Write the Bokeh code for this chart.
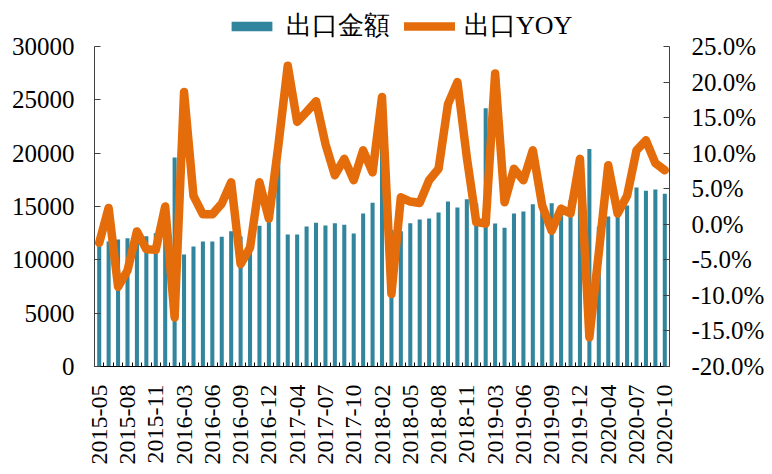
import math
from bokeh.plotting import figure
from bokeh.models import (Range1d, LinearAxis, FixedTicker, PrintfTickFormatter,
                          Legend, LegendItem, ColumnDataSource)
from bokeh.embed import file_html
from bokeh.resources import INLINE

months = [
    "2015-05", "2015-06", "2015-07", "2015-08", "2015-09", "2015-10", "2015-11", "2015-12",
    "2016-02", "2016-03", "2016-04", "2016-05", "2016-06", "2016-07", "2016-08", "2016-09",
    "2016-10", "2016-11", "2016-12",
    "2017-02", "2017-03", "2017-04", "2017-05", "2017-06", "2017-07", "2017-08", "2017-09",
    "2017-10", "2017-11", "2017-12",
    "2018-02", "2018-03", "2018-04", "2018-05", "2018-06", "2018-07", "2018-08", "2018-09",
    "2018-10", "2018-11", "2018-12",
    "2019-02", "2019-03", "2019-04", "2019-05", "2019-06", "2019-07", "2019-08", "2019-09",
    "2019-10", "2019-11", "2019-12",
    "2020-02", "2020-03", "2020-04", "2020-05", "2020-06", "2020-07", "2020-08", "2020-09",
    "2020-10",
]

export_value = [
    11650, 11710, 11900, 12030, 12600, 12220, 12500, 12900,
    19600, 10500, 11250, 11720, 11720, 12160, 12690, 12190, 12600, 13200, 13550,
    19300, 12370, 12370, 13120, 13470, 13220, 13440, 13280, 12470, 14350, 15340,
    21000, 12800, 12690, 13440, 13780, 13870, 14440, 15470, 14910, 15690, 15280,
    24220, 13400, 13000, 14340, 14530, 15220, 14600, 15300, 14500, 15600, 15500,
    20380, 13100, 14060, 14300, 15100, 16770, 16470, 16590, 16190,
]

export_yoy = [
    -2.6, 2.3, -8.8, -6.5, -1.0, -3.5, -3.6, 2.5,
    -13.1, 18.6, 4.0, 1.4, 1.4, 2.9, 5.9, -5.6, -3.3, 5.9, 0.8,
    11.0, 22.3, 14.4, 15.8, 17.3, 11.3, 6.9, 9.2, 6.2, 10.4, 7.3,
    17.9, -9.8, 3.8, 3.2, 3.0, 6.2, 7.8, 16.9, 20.0, 9.4, 0.3,
    0.1, 21.2, 3.1, 7.8, 6.2, 10.4, 2.6, -0.9, 2.2, 1.5, 9.2,
    -15.9, -4.0, 8.3, 1.5, 4.0, 10.4, 11.8, 8.6, 7.6,
]

left_ticks = [0, 5000, 10000, 15000, 20000, 25000, 30000]
right_ticks = [-20, -15, -10, -5, 0, 5, 10, 15, 20, 25]

BAR = "#31859C"
LINE = "#E46C0A"
FONT = "Liberation Serif"
FS = "25px"

# layout (pixels)
W, H = 772, 474
B_LEFT, B_RIGHT, B_TOP, B_BOTTOM = 94, 103, 6, 108
FRAME_H = H - B_TOP - B_BOTTOM      # frame extends up to hold the legend
AXIS_H = 320                         # pixel span of the value axes
scale = FRAME_H / AXIS_H

L0, L1 = left_ticks[0], left_ticks[-1]
R0, R1 = right_ticks[0], right_ticks[-1]

idx = list(range(len(months)))
src = ColumnDataSource(dict(x=idx, v=export_value, y=export_yoy))

p = figure(width=W, height=H, output_backend="svg", toolbar_location=None,
           x_range=Range1d(-0.5, len(months) - 0.5),
           y_range=Range1d(L0, L0 + (L1 - L0) * scale),
           min_border_left=B_LEFT, min_border_right=B_RIGHT,
           min_border_top=B_TOP, min_border_bottom=B_BOTTOM)
p.extra_y_ranges = {"yoy": Range1d(R0, R0 + (R1 - R0) * scale)}
p.xgrid.visible = False
p.ygrid.visible = False
p.outline_line_color = None

bars = p.vbar(x="x", top="v", width=0.43, source=src, fill_color=BAR, line_color=None)
line = p.line(x="x", y="y", source=src, y_range_name="yoy", line_color=LINE,
              line_width=8.5, line_join="round", line_cap="round")

# x axis
xa = p.xaxis[0]
tick_idx = idx[::3]
xa.ticker = FixedTicker(ticks=tick_idx, minor_ticks=[i - 0.5 for i in range(len(months) + 1)])
xa.major_label_overrides = {i: months[i] for i in tick_idx}
xa.major_label_orientation = math.pi / 2
xa.major_tick_line_color = None
xa.minor_tick_in = 4
xa.minor_tick_out = 0
xa.minor_tick_line_color = "#000000"
xa.axis_line_color = "#000000"
xa.major_label_text_font = FONT
xa.major_label_text_font_size = "24px"
xa.major_label_text_color = "#000000"
xa.major_label_standoff = 12

# left axis
ya = p.yaxis[0]
ya.ticker = FixedTicker(ticks=left_ticks)
ya.bounds = (L0, L1)
ya.major_tick_in = 6
ya.major_tick_out = 0
ya.minor_tick_line_color = None
ya.axis_line_color = "#404040"
ya.major_tick_line_color = "#404040"
ya.major_label_text_font = FONT
ya.major_label_text_font_size = FS
ya.major_label_text_color = "#000000"
ya.major_label_standoff = 20

# right axis
ra = LinearAxis(y_range_name="yoy", ticker=FixedTicker(ticks=right_ticks),
                formatter=PrintfTickFormatter(format="%.1f%%"), bounds=(R0, R1))
ra.major_tick_in = 6
ra.major_tick_out = 0
ra.minor_tick_line_color = None
ra.axis_line_color = "#404040"
ra.major_tick_line_color = "#404040"
ra.major_label_text_font = FONT
ra.major_label_text_font_size = FS
ra.major_label_text_color = "#000000"
ra.major_label_standoff = 22
p.add_layout(ra, "right")

legend = Legend(items=[LegendItem(label="出口金額", renderers=[bars]),
                       LegendItem(label="出口YOY", renderers=[line])],
                orientation="horizontal", location=(132, AXIS_H + 3),
                label_text_font=FONT, label_text_font_size="26px",
                label_text_color="#000000",
                glyph_width=51, glyph_height=12, spacing=14, padding=0, margin=0,
                label_standoff=9, border_line_color=None, background_fill_alpha=0)
p.add_layout(legend)

open("out.html", "w").write(file_html(p, INLINE))
